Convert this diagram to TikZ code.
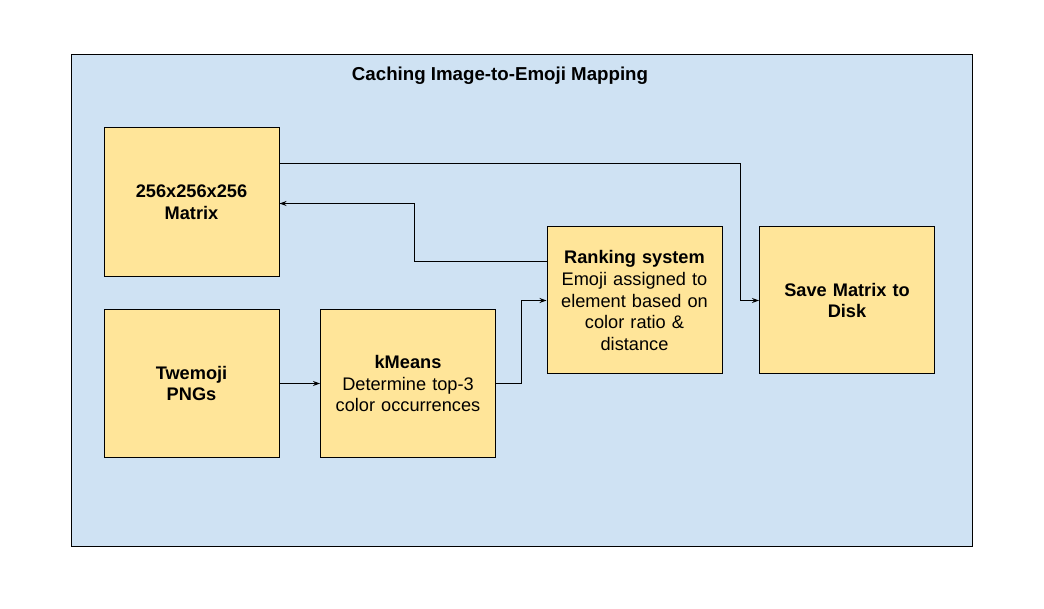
\documentclass[tikz,border=0pt]{standalone}
\usepackage{fontspec}
\setmainfont{Liberation Sans}
\usetikzlibrary{arrows.meta}
\definecolor{bgblue}{HTML}{CFE2F3}
\definecolor{boxyellow}{HTML}{FFE599}
\tikzset{
  blk/.style={draw=black, line width=1pt, fill=boxyellow, minimum width=175pt, minimum height=148pt, align=center, inner sep=4pt, font=\fontsize{18.2}{21.8}\selectfont, text width=167pt},
  conn/.style={draw=black, line width=1pt, -{Stealth[length=7pt,width=5pt]}},
}
\begin{document}
\begin{tikzpicture}[x=1pt,y=-1pt]
\useasboundingbox (0,0) rectangle (1044,609);
\node[draw=black, line width=1pt, fill=bgblue, minimum width=901.5pt, minimum height=491.5pt, anchor=north west, inner sep=0pt] (outer) at (70.5,54.5) {};
\node[font=\fontsize{18.7}{22}\selectfont\bfseries] (title) at (500,75.5) {Caching Image-to-Emoji Mapping};
\node[blk, minimum height=149pt] (matrix) at (191.5,202.5) {\textbf{256x256x256}\\\textbf{Matrix}};
\node[blk, minimum height=147pt] (twemoji) at (191.5,383.5) {\textbf{Twemoji}\\\textbf{PNGs}};
\node[blk, minimum height=147pt] (kmeans) at (408,383.5) {\textbf{kMeans}\\Determine top-3\\color occurrences};
\node[blk, minimum height=147pt] (rank) at (634.5,300.5) {\textbf{Ranking system}\\Emoji assigned to\\element based on\\color ratio \&\\distance};
\node[blk, minimum height=147pt] (save) at (847,300.5) {\textbf{Save Matrix to}\\\textbf{Disk}};
\draw[conn] (matrix.east |- 0,163.5) -- (740,163.5) |- (save.west);
\draw[conn] (rank.west |- 0,262) -- (414,262) |- (matrix.east |- 0,203.5);
\draw[conn] (twemoji.east) -- (kmeans.west);
\draw[conn] (kmeans.east) -- (521,383.5) |- (rank.west);
\end{tikzpicture}
\end{document}
